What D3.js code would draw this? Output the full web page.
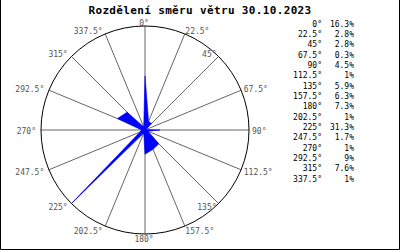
<!DOCTYPE html>
<html>
<head>
<meta charset="utf-8">
<script src="https://cdn.jsdelivr.net/npm/d3@7.9.0/dist/d3.min.js"></script>
<style>
  html, body { margin: 0; padding: 0; background: #fff; }
  svg { display: block; }
  text { font-family: 'DejaVu Sans Mono', monospace; }
</style>
</head>
<body>
<svg id="chart" width="400" height="250"></svg>
<script>
const title = 'Rozdělení směru větru 30.10.2023';
const directions = [0, 22.5, 45, 67.5, 90, 112.5, 135, 157.5, 180, 202.5, 225, 247.5, 270, 292.5, 315, 337.5];
const shares = [16.3, 2.8, 2.8, 0.3, 4.5, 1, 5.9, 6.3, 7.3, 1, 31.3, 1.7, 1, 9, 7.6, 1];

const width = 400, height = 250;
const cx = 145, cy = 130, R = 104;

const svg = d3.select('#chart');

// frame (left, right, bottom)
svg.append('path')
  .attr('d', `M0.5,0 V${height - 0.5} H${width - 0.5} V0`)
  .attr('fill', 'none')
  .attr('stroke', '#000');

svg.append('text')
  .attr('x', 200)
  .attr('y', 10)
  .attr('dy', '0.35em')
  .attr('text-anchor', 'middle')
  .attr('font-size', 11)
  .attr('font-weight', 'bold')
  .attr('letter-spacing', 0.35)
  .text(title);

const rad = (d) => (d * Math.PI) / 180;
const r = d3.scaleLinear().domain([0, d3.max(shares)]).range([0, R]);

const g = svg.append('g').attr('transform', `translate(${cx},${cy})`);

// spokes
g.selectAll('line.spoke')
  .data(directions)
  .join('line')
  .attr('class', 'spoke')
  .attr('x1', 0).attr('y1', 0)
  .attr('x2', (d) => R * Math.sin(rad(d)))
  .attr('y2', (d) => -R * Math.cos(rad(d)))
  .attr('stroke', '#666')
  .attr('stroke-width', 1);

// wind polygon
const rose = d3.lineRadial()
  .angle((d, i) => rad(directions[i]))
  .radius((d) => r(d))
  .curve(d3.curveLinearClosed);

g.append('path')
  .attr('d', rose(shares))
  .attr('fill', '#0000ff')
  .attr('stroke', '#0000ff')
  .attr('stroke-width', 0.6);

// outer circle
g.append('circle')
  .attr('r', R)
  .attr('fill', 'none')
  .attr('stroke', '#000')
  .attr('stroke-width', 1);

// direction labels (the diagonals 45 and 135 sit on the inner side, like the original)
const anchorOf = (d) => {
  if (d === 0 || d === 180) return 'middle';
  if (d === 45 || d === 135) return 'end';
  return d < 180 ? 'start' : 'end';
};
g.selectAll('text.dir')
  .data(directions)
  .join('text')
  .attr('class', 'dir')
  .attr('x', (d) => {
    const a = anchorOf(d);
    if (a === 'end' && d < 180) return R * Math.sin(rad(d)) - 2;
    return (R + 4) * Math.sin(rad(d)) - 1;
  })
  .attr('y', (d) => -(R + 4) * Math.cos(rad(d)) + 1)
  .attr('dy', '0.35em')
  .attr('text-anchor', anchorOf)
  .attr('font-size', 8)
  .attr('fill', '#555')
  .text((d) => `${d}°`);

// legend
const rowY = (i) => 24 + i * 10.33;
const legend = svg.append('g');
legend.selectAll('text.ang')
  .data(directions)
  .join('text')
  .attr('class', 'ang')
  .attr('x', 322)
  .attr('y', (d, i) => rowY(i))
  .attr('dy', '0.35em')
  .attr('text-anchor', 'end')
  .attr('font-size', 8)
  .attr('fill', '#000')
  .text((d) => `${d}°`);

legend.selectAll('text.val')
  .data(shares)
  .join('text')
  .attr('class', 'val')
  .attr('x', 354)
  .attr('y', (d, i) => rowY(i))
  .attr('dy', '0.35em')
  .attr('text-anchor', 'end')
  .attr('font-size', 8)
  .attr('fill', '#000')
  .text((d) => `${d}%`);
</script>
</body>
</html>
